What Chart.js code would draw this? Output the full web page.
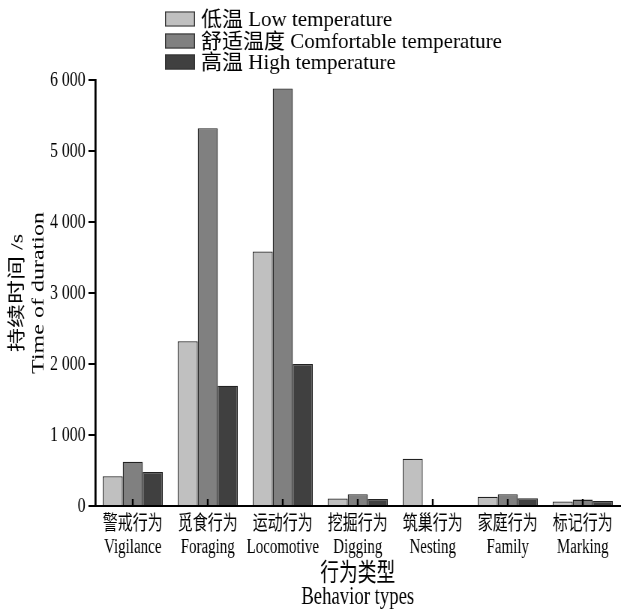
<!DOCTYPE html>
<html>
<head>
<meta charset="utf-8">
<script src="https://cdn.jsdelivr.net/npm/chart.js@4/dist/chart.umd.min.js"></script>
<style>
    html, body { margin: 0; padding: 0; background: #fff; overflow: hidden; }
    #wrap { width: 829px; height: 610px; transform: scaleX(0.75); transform-origin: 0 0; }
</style>
</head>
<body>
<div id="wrap"><canvas id="chart" width="829" height="610"></canvas></div>
<script>
const categories = [
    ['警戒行为', 'Vigilance'],
    ['觅食行为', 'Foraging'],
    ['运动行为', 'Locomotive'],
    ['挖掘行为', 'Digging'],
    ['筑巢行为', 'Nesting'],
    ['家庭行为', 'Family'],
    ['标记行为', 'Marking']
];
const seriesNames = ['低温 Low temperature', '舒适温度 Comfortable temperature', '高温 High temperature'];
const lowTemp = [420, 2320, 3585, 105, 665, 130, 65];
const comfortTemp = [625, 5320, 5880, 165, 0, 165, 90];
const highTemp = [480, 1695, 2000, 100, 0, 110, 70];
const yTicks = [0, 1000, 2000, 3000, 4000, 5000, 6000];

const SQUISH = 0.75;
const FONT = "'Liberation Serif', 'Noto Sans CJK SC', serif";
const colors = ['#c0c0c0', '#808080', '#404040'];

// legend drawn un-squished, stacked vertically like the original
const stackedLegend = {
    id: 'stackedLegend',
    afterDraw(chart) {
        const ctx = chart.ctx;
        ctx.save();
        ctx.scale(1 / SQUISH, 1);
        ctx.font = '21px ' + FONT;
        ctx.textBaseline = 'middle';
        ctx.textAlign = 'left';
        const rows = [19, 41, 62];
        chart.data.datasets.forEach((ds, i) => {
            const y = rows[i];
            ctx.fillStyle = ds.backgroundColor;
            ctx.fillRect(165, y - 7.5, 30, 15);
            ctx.strokeStyle = '#333';
            ctx.lineWidth = 1;
            ctx.strokeRect(165.5, y - 7, 29, 14);
            ctx.fillStyle = '#000';
            ctx.fillText(ds.label, 201, y + 1);
        });
        ctx.restore();
    }
};

// short tick marks pointing up into the plot at each category
const innerTicks = {
    id: 'innerTicks',
    afterDatasetsDraw(chart) {
        const ctx = chart.ctx;
        const xs = chart.scales.x;
        const bottom = chart.chartArea.bottom;
        ctx.save();
        ctx.strokeStyle = '#000';
        ctx.lineWidth = 2.4;
        xs.ticks.forEach((t, i) => {
            const x = xs.getPixelForTick(i);
            ctx.beginPath();
            ctx.moveTo(x, bottom);
            ctx.lineTo(x, bottom - 7);
            ctx.stroke();
        });
        ctx.restore();
    }
};

const ctx = document.getElementById('chart').getContext('2d');
new Chart(ctx, {
    type: 'bar',
    data: {
        labels: categories,
        datasets: [lowTemp, comfortTemp, highTemp].map((d, i) => ({
            label: seriesNames[i],
            data: d,
            backgroundColor: colors[i],
            borderColor: '#222',
            borderWidth: 1.3,
            barPercentage: 1,
            categoryPercentage: 0.8
        }))
    },
    options: {
        responsive: false,
        animation: false,
        layout: { padding: { top: 80, right: 2, bottom: 0, left: 0 } },
        plugins: {
            legend: { display: false },
            tooltip: { enabled: false }
        },
        scales: {
            x: {
                afterFit(scale) { scale.height = 104; },
                grid: { display: false, drawTicks: false },
                border: { display: true, color: '#000', width: 2 },
                ticks: {
                    color: '#000',
                    padding: 7,
                    maxRotation: 0,
                    autoSkip: false,
                    font: { family: FONT, size: 20, lineHeight: 1.15 }
                },
                title: {
                    display: true,
                    text: ['行为类型', 'Behavior types'],
                    color: '#000',
                    padding: { top: 0, bottom: 1 },
                    font: { family: FONT, size: 25, lineHeight: 0.92 }
                }
            },
            y: {
                min: 0,
                max: 6000,
                afterFit(scale) { scale.width = 127; },
                afterBuildTicks(scale) { scale.ticks = yTicks.map(v => ({ value: v })); },
                grid: { drawOnChartArea: false, drawTicks: true, tickLength: 9, color: '#000', lineWidth: 2 },
                border: { display: true, color: '#000', width: 2.7 },
                ticks: {
                    color: '#000',
                    padding: 4,
                    font: { family: FONT, size: 21 },
                    callback: v => v >= 1000 ? Math.floor(v / 1000) + ' ' + String(v % 1000).padStart(3, '0') : String(v)
                },
                title: {
                    display: true,
                    text: ['持续时间 /s', 'Time of duration'],
                    color: '#000',
                    padding: { top: 9, bottom: 0 },
                    font: { family: FONT, size: 24, lineHeight: 1.2 }
                }
            }
        }
    },
    plugins: [stackedLegend, innerTicks]
});
</script>
</body>
</html>
